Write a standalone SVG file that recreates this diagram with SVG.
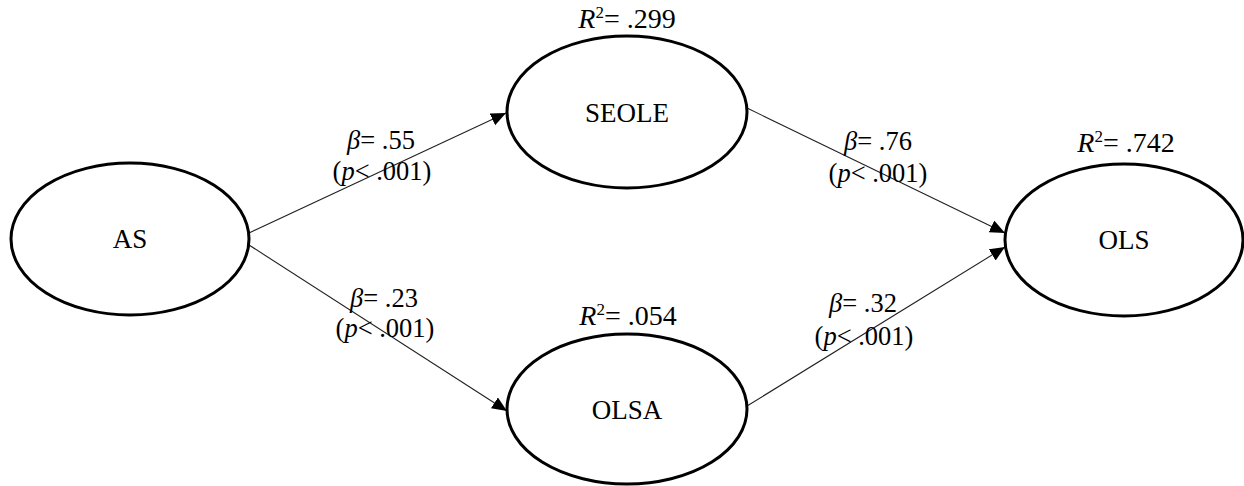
<svg xmlns="http://www.w3.org/2000/svg" width="1244" height="486" viewBox="0 0 1244 486">
<style>
.node{fill:#fff;stroke:#000;stroke-width:3}
.lbl{font-family:"Liberation Serif","Times New Roman",serif;font-size:27px;fill:#000;text-anchor:middle}
.el{font-family:"Liberation Serif","Times New Roman",serif;font-size:26.5px;fill:#000;text-anchor:middle}
.r2{font-family:"Liberation Serif","Times New Roman",serif;font-size:28px;fill:#000;text-anchor:middle}
.edge{stroke:#222;stroke-width:1.1;fill:none;marker-end:url(#arr)}
</style>
<defs>
<marker id="arr" markerUnits="userSpaceOnUse" markerWidth="16" markerHeight="14" refX="15" refY="6.5" orient="auto">
<path d="M0,0 L15,6.5 L0,13 z" fill="#000"/>
</marker>
</defs>
<rect width="1244" height="486" fill="#fff"/>
<g id="connectors">
<line class="edge" x1="249" y1="233" x2="506" y2="113"/>
<line class="edge" x1="249" y1="245" x2="507" y2="411"/>
<line class="edge" x1="747" y1="108" x2="1005" y2="233"/>
<line class="edge" x1="747" y1="406" x2="1005" y2="247"/>
<g id="edge-labels">
<text class="el" x="381" y="149"><tspan font-style="italic">β</tspan>= .55</text>
<text class="el" x="382" y="180">(<tspan font-style="italic">p</tspan>&lt; .001)</text>
<text class="el" x="384" y="307"><tspan font-style="italic">β</tspan>= .23</text>
<text class="el" x="385" y="337">(<tspan font-style="italic">p</tspan>&lt; .001)</text>
<text class="el" x="878" y="150"><tspan font-style="italic">β</tspan>= .76</text>
<text class="el" x="878" y="182">(<tspan font-style="italic">p</tspan>&lt; .001)</text>
<text class="el" x="863" y="312"><tspan font-style="italic">β</tspan>= .32</text>
<text class="el" x="864" y="345">(<tspan font-style="italic">p</tspan>&lt; .001)</text>
</g>
</g>
<g id="node-AS">
<ellipse class="node" cx="130" cy="239" rx="119" ry="76"/>
<text class="lbl" x="130" y="248">AS</text>
</g>
<g id="node-SEOLE">
<ellipse class="node" cx="627" cy="112" rx="120" ry="76"/>
<text class="lbl" x="627" y="122">SEOLE</text>
<text class="r2" x="627" y="28"><tspan font-style="italic">R</tspan><tspan font-size="17" dy="-10">2</tspan><tspan dy="10">= .299</tspan></text>
</g>
<g id="node-OLSA">
<ellipse class="node" cx="627" cy="409" rx="120" ry="75"/>
<text class="lbl" x="627" y="419">OLSA</text>
<text class="r2" x="628" y="325"><tspan font-style="italic">R</tspan><tspan font-size="17" dy="-10">2</tspan><tspan dy="10">= .054</tspan></text>
</g>
<g id="node-OLS">
<ellipse class="node" cx="1124" cy="240" rx="119" ry="76"/>
<text class="lbl" x="1124" y="249">OLS</text>
<text class="r2" x="1126" y="152"><tspan font-style="italic">R</tspan><tspan font-size="17" dy="-10">2</tspan><tspan dy="10">= .742</tspan></text>
</g>
</svg>
